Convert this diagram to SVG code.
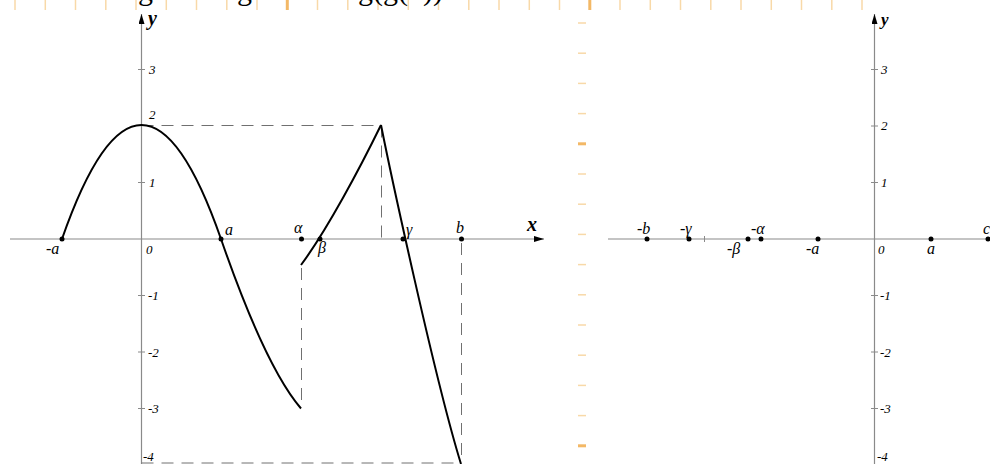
<svg xmlns="http://www.w3.org/2000/svg" width="990" height="464" viewBox="0 0 990 464">
<style>
.ax{stroke:#8a8a8a;stroke-width:1.2;fill:none}
.tk{stroke:#8a8a8a;stroke-width:1}
.cv{stroke:#000;stroke-width:2;fill:none;stroke-linejoin:round}
.ds{stroke:#707070;stroke-width:1;fill:none;stroke-dasharray:12 8}
.rl{stroke:#f8d9a8;stroke-width:1.5}
.rb{stroke:#f3b866;stroke-width:3}
.lb{font-family:"Liberation Serif",serif;font-style:italic;font-size:16px;fill:#000}
.nm{font-family:"Liberation Serif",serif;font-style:italic;font-size:13px;fill:#000}
.ax-l{font-family:"Liberation Serif",serif;font-style:italic;font-weight:bold;font-size:20px;fill:#000}
.top{font-family:"Liberation Serif",serif;font-size:30px;fill:#000}
.dot{fill:#000}
</style>
<defs>
<marker id="arr" viewBox="0 0 10 6" refX="10" refY="3" markerWidth="10" markerHeight="6" markerUnits="userSpaceOnUse" orient="auto">
<path d="M0,0 L10,3 L0,6 Z" fill="#000"/>
</marker>
</defs>

<g id="ruler">
<g id="ruler-top">
<line class="rl" x1="15" y1="0" x2="15" y2="10"/><line class="rl" x1="45.3" y1="0" x2="45.3" y2="10"/><line class="rl" x1="75.5" y1="0" x2="75.5" y2="10"/><line class="rl" x1="105.8" y1="0" x2="105.8" y2="10"/><line class="rl" x1="136" y1="0" x2="136" y2="10"/><line class="rl" x1="166.3" y1="0" x2="166.3" y2="10"/><line class="rl" x1="196.5" y1="0" x2="196.5" y2="10"/><line class="rl" x1="226.8" y1="0" x2="226.8" y2="10"/><line class="rl" x1="257" y1="0" x2="257" y2="10"/><line class="rb" x1="287.3" y1="0" x2="287.3" y2="10"/><line class="rl" x1="317.5" y1="0" x2="317.5" y2="10"/><line class="rl" x1="347.8" y1="0" x2="347.8" y2="10"/><line class="rl" x1="378" y1="0" x2="378" y2="10"/><line class="rl" x1="408.3" y1="0" x2="408.3" y2="10"/><line class="rl" x1="438.5" y1="0" x2="438.5" y2="10"/><line class="rl" x1="468.8" y1="0" x2="468.8" y2="10"/><line class="rl" x1="499" y1="0" x2="499" y2="10"/><line class="rl" x1="529.3" y1="0" x2="529.3" y2="10"/><line class="rl" x1="559.5" y1="0" x2="559.5" y2="10"/><line class="rb" x1="589.8" y1="0" x2="589.8" y2="10"/><line class="rl" x1="620" y1="0" x2="620" y2="10"/><line class="rl" x1="650.3" y1="0" x2="650.3" y2="10"/><line class="rl" x1="680.5" y1="0" x2="680.5" y2="10"/><line class="rl" x1="710.8" y1="0" x2="710.8" y2="10"/><line class="rl" x1="741" y1="0" x2="741" y2="10"/><line class="rl" x1="771.3" y1="0" x2="771.3" y2="10"/><line class="rl" x1="801.5" y1="0" x2="801.5" y2="10"/><line class="rl" x1="831.8" y1="0" x2="831.8" y2="10"/><line class="rl" x1="862" y1="0" x2="862" y2="10"/>
</g>
<g id="ruler-side">
<line class="rl" x1="578" y1="23" x2="586" y2="23"/><line class="rl" x1="578" y1="53.2" x2="586" y2="53.2"/><line class="rl" x1="578" y1="83.4" x2="586" y2="83.4"/><line class="rl" x1="578" y1="113.6" x2="586" y2="113.6"/><line class="rb" x1="578" y1="143.8" x2="586" y2="143.8"/><line class="rl" x1="578" y1="174" x2="586" y2="174"/><line class="rl" x1="578" y1="204.2" x2="586" y2="204.2"/><line class="rl" x1="578" y1="234.4" x2="586" y2="234.4"/><line class="rl" x1="578" y1="264.6" x2="586" y2="264.6"/><line class="rl" x1="578" y1="294.8" x2="586" y2="294.8"/><line class="rl" x1="578" y1="325" x2="586" y2="325"/><line class="rl" x1="578" y1="355.2" x2="586" y2="355.2"/><line class="rl" x1="578" y1="385.4" x2="586" y2="385.4"/><line class="rl" x1="578" y1="415.6" x2="586" y2="415.6"/><line class="rb" x1="578" y1="445.8" x2="586" y2="445.8"/>
</g>
</g>

<g id="top-text">
<text class="top" x="138" y="0">g</text>
<text class="top" x="237" y="0">g</text>
<text class="top" x="358" y="0">g(g(x))</text>
</g>

<g id="left-graph">
<g id="left-axes">
<line class="ax" x1="10" y1="239" x2="544" y2="239" marker-end="url(#arr)"/>
<line class="ax" x1="141.5" y1="464" x2="141.5" y2="14" marker-end="url(#arr)"/>
<line class="tk" x1="138" y1="69.5" x2="145" y2="69.5"/>
<line class="tk" x1="138" y1="182.5" x2="145" y2="182.5"/>
<line class="tk" x1="138" y1="295.5" x2="145" y2="295.5"/>
<line class="tk" x1="138" y1="352" x2="145" y2="352"/>
<line class="tk" x1="138" y1="408.5" x2="145" y2="408.5"/>
<text class="ax-l" x="148" y="25">y</text>
<text class="ax-l" x="527" y="231">x</text>
<text class="nm" x="149" y="74">3</text>
<text class="nm" x="149" y="119">2</text>
<text class="nm" x="149" y="187">1</text>
<text class="nm" x="148" y="300">-1</text>
<text class="nm" x="148" y="357">-2</text>
<text class="nm" x="148" y="413">-3</text>
<text class="nm" x="143" y="461">-4</text>
</g>
<g id="left-connectors">
<line class="ds" x1="141.5" y1="125.5" x2="381" y2="125.5"/>
<line class="ds" x1="381.5" y1="125.5" x2="381.5" y2="239"/>
<line class="ds" x1="301.5" y1="268" x2="301.5" y2="408"/>
<line class="ds" x1="461.5" y1="243" x2="461.5" y2="463"/>
<line class="ds" x1="141.5" y1="463" x2="461" y2="463"/>
</g>
<g id="left-curves">
<path class="cv" d="M62,239 Q141.5,11 221,239 C238,288 268,370 301,408.5"/>
<path class="cv" d="M301,265 C327,230 360,168 381,125"/>
<path class="cv" d="M381,125 C390,170 435,380 461,464"/>
</g>
<g id="left-points">
<circle class="dot" cx="62" cy="239" r="2.5"/>
<circle class="dot" cx="221" cy="239" r="2.5"/>
<circle class="dot" cx="301.5" cy="239" r="2.5"/>
<circle class="dot" cx="320" cy="239" r="2.5"/>
<circle class="dot" cx="403" cy="239" r="2.5"/>
<circle class="dot" cx="461.5" cy="239" r="2.5"/>
<text class="lb" x="46" y="254">-a</text>
<text class="nm" x="146" y="254">0</text>
<text class="lb" x="225" y="235">a</text>
<text class="lb" x="294" y="233">α</text>
<text class="lb" x="318" y="253">β</text>
<text class="lb" x="406" y="235">γ</text>
<text class="lb" x="456" y="233">b</text>
</g>
</g>

<g id="right-graph">
<g id="right-axes">
<line class="ax" x1="608" y1="239" x2="990" y2="239"/>
<line class="ax" x1="874.5" y1="464" x2="874.5" y2="14" marker-end="url(#arr)"/>
<line class="tk" x1="704.5" y1="236" x2="704.5" y2="242"/>
<line class="tk" x1="871" y1="69.5" x2="878" y2="69.5"/>
<line class="tk" x1="871" y1="126" x2="878" y2="126"/>
<line class="tk" x1="871" y1="182.5" x2="878" y2="182.5"/>
<line class="tk" x1="871" y1="295.5" x2="878" y2="295.5"/>
<line class="tk" x1="871" y1="352" x2="878" y2="352"/>
<line class="tk" x1="871" y1="408.5" x2="878" y2="408.5"/>
<text class="ax-l" x="881" y="25" style="font-size:17px">y</text>
<text class="nm" x="881" y="74">3</text>
<text class="nm" x="881" y="130">2</text>
<text class="nm" x="881" y="187">1</text>
<text class="nm" x="880" y="300">-1</text>
<text class="nm" x="880" y="357">-2</text>
<text class="nm" x="880" y="413">-3</text>
<text class="nm" x="877" y="461">-4</text>
</g>
<g id="right-points">
<circle class="dot" cx="647" cy="239" r="2.5"/>
<circle class="dot" cx="689" cy="239" r="2.5"/>
<circle class="dot" cx="748" cy="239" r="2.5"/>
<circle class="dot" cx="761" cy="239" r="2.5"/>
<circle class="dot" cx="818" cy="239" r="2.5"/>
<circle class="dot" cx="931" cy="239" r="2.5"/>
<circle class="dot" cx="988" cy="239" r="2.5"/>
<text class="lb" x="637" y="234">-b</text>
<text class="lb" x="680" y="234">-γ</text>
<text class="lb" x="727" y="254">-β</text>
<text class="lb" x="751" y="234">-α</text>
<text class="lb" x="806" y="254">-a</text>
<text class="nm" x="878" y="254">0</text>
<text class="lb" x="927" y="254">a</text>
<text class="lb" x="983" y="234">c</text>
</g>
</g>
</svg>
